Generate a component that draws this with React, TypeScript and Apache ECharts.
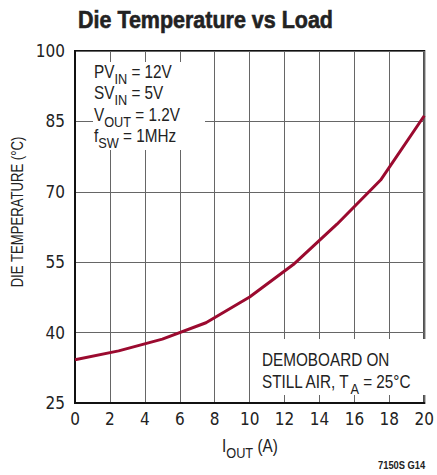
import React, { useEffect, useRef } from "react";
import * as echarts from "echarts";

const loadA = [0, 2.5, 5, 7.5, 10, 12.5, 15, 17.5, 20];
const dieTempC = [34.2, 36.1, 38.6, 42.1, 47.6, 54.5, 63.1, 72.5, 86.2];
const xTicks = { min: 0, max: 20, interval: 2 };
const yTicks = { min: 25, max: 100, interval: 15 };

const AX_FONT = "'DejaVu Sans Condensed', 'Liberation Sans', sans-serif";
const TX_FONT = "'Liberation Sans', Arial, sans-serif";
const SQ = 0.85; // horizontal squeeze to mimic a condensed face
const INK = "#222";

type Seg = { t: string; sub?: boolean };

let ctx: CanvasRenderingContext2D | null = null;
function measure(text: string, font: string) {
  if (!ctx) ctx = document.createElement("canvas").getContext("2d");
  ctx!.font = font;
  return ctx!.measureText(text).width;
}

// Builds a line of text with subscripts as separate text elements, cy = centre of main text
function textLine(x: number, cy: number, segs: Seg[], size = 18, subSize = 15, subDy = 6.5) {
  const out: any[] = [];
  let cx = x;
  for (const s of segs) {
    const fs = s.sub ? subSize : size;
    const font = `${fs}px ${TX_FONT}`;
    out.push({
      type: "text",
      x: cx,
      y: cy + (s.sub ? subDy : 0),
      scaleX: SQ,
      z: 100,
      style: { text: s.t, x: 0, y: 0, font, fill: INK, verticalAlign: "middle", align: "left" },
    });
    cx += measure(s.t, font) * SQ;
  }
  return out;
}

export default function App() {
  const ref = useRef<HTMLDivElement>(null);
  useEffect(() => {
    document.body.style.margin = "0";
    const chart = echarts.init(ref.current!, null, { renderer: "svg" });

    const titleText = "Die Temperature vs Load";
    const titleFont = `bold 24px ${TX_FONT}`;
    const titleScale = 255 / measure(titleText, titleFont);

    const yName = "DIE TEMPERATURE (°C)";
    const yNameFont = `17px ${TX_FONT}`;
    const yNameScale = 151 / measure(yName, yNameFont);

    chart.setOption({
      animation: false,
      backgroundColor: "#fff",
      grid: { left: 75, top: 51, width: 352, height: 352, show: true, borderColor: "#111", borderWidth: 2, containLabel: false },
      xAxis: {
        type: "value",
        ...xTicks,
        axisLine: { show: true, lineStyle: { color: "#111", width: 2 } },
        axisTick: { show: false },
        splitLine: { show: true, lineStyle: { color: "#666", width: 1 } },
        axisLabel: { fontFamily: AX_FONT, fontSize: 17, color: INK, margin: 7 },
      },
      yAxis: {
        type: "value",
        ...yTicks,
        axisLine: { show: true, lineStyle: { color: "#111", width: 2 } },
        axisTick: { show: false },
        splitLine: { show: true, lineStyle: { color: "#666", width: 1 } },
        axisLabel: { fontFamily: AX_FONT, fontSize: 17, color: INK, margin: 10 },
      },
      series: [
        {
          type: "line",
          data: loadA.map((x, i) => [x, dieTempC[i]]),
          symbol: "none",
          lineStyle: { color: "#9b0a2f", width: 3, join: "round" },
          z: 3,
        },
      ],
      graphic: [
        {
          type: "text",
          x: 78,
          y: 20,
          scaleX: titleScale,
          style: { text: titleText, x: 0, y: 0, font: titleFont, fill: INK, stroke: INK, lineWidth: 0.6, verticalAlign: "middle", align: "left" },
        },
        {
          type: "text",
          x: 17,
          y: 212,
          rotation: Math.PI / 2,
          scaleX: yNameScale,
          style: { text: yName, x: 0, y: 0, font: yNameFont, fill: INK, verticalAlign: "middle", align: "center" },
        },
        { type: "rect", shape: { x: 93, y: 62, width: 112, height: 88 }, style: { fill: "#fff" }, z: 50 },
        { type: "rect", shape: { x: 255, y: 339, width: 171, height: 56 }, style: { fill: "#fff" }, z: 50 },
        ...textLine(94, 72, [{ t: "PV" }, { t: "IN", sub: true }, { t: " = 12V" }]),
        ...textLine(94, 93.5, [{ t: "SV" }, { t: "IN", sub: true }, { t: " = 5V" }]),
        ...textLine(94, 115, [{ t: "V" }, { t: "OUT", sub: true }, { t: " = 1.2V" }]),
        ...textLine(94, 136.5, [{ t: "f" }, { t: "SW", sub: true }, { t: " = 1MHz" }]),
        ...textLine(262, 360, [{ t: "DEMOBOARD ON" }]),
        ...textLine(262, 382, [{ t: "STILL AIR, T" }, { t: "A", sub: true }, { t: " = 25°C" }]),
        ...textLine(222, 446, [{ t: "I" }, { t: "OUT", sub: true }, { t: " (A)" }]),
        {
          type: "text",
          x: 378,
          y: 465,
          scaleX: 0.85,
          style: { text: "7150S G14", x: 0, y: 0, font: `bold 11px ${TX_FONT}`, fill: INK, verticalAlign: "middle", align: "left" },
        },
      ],
    });
    return () => chart.dispose();
  }, []);
  return <div ref={ref} style={{ width: 437, height: 475 }} />;
}
